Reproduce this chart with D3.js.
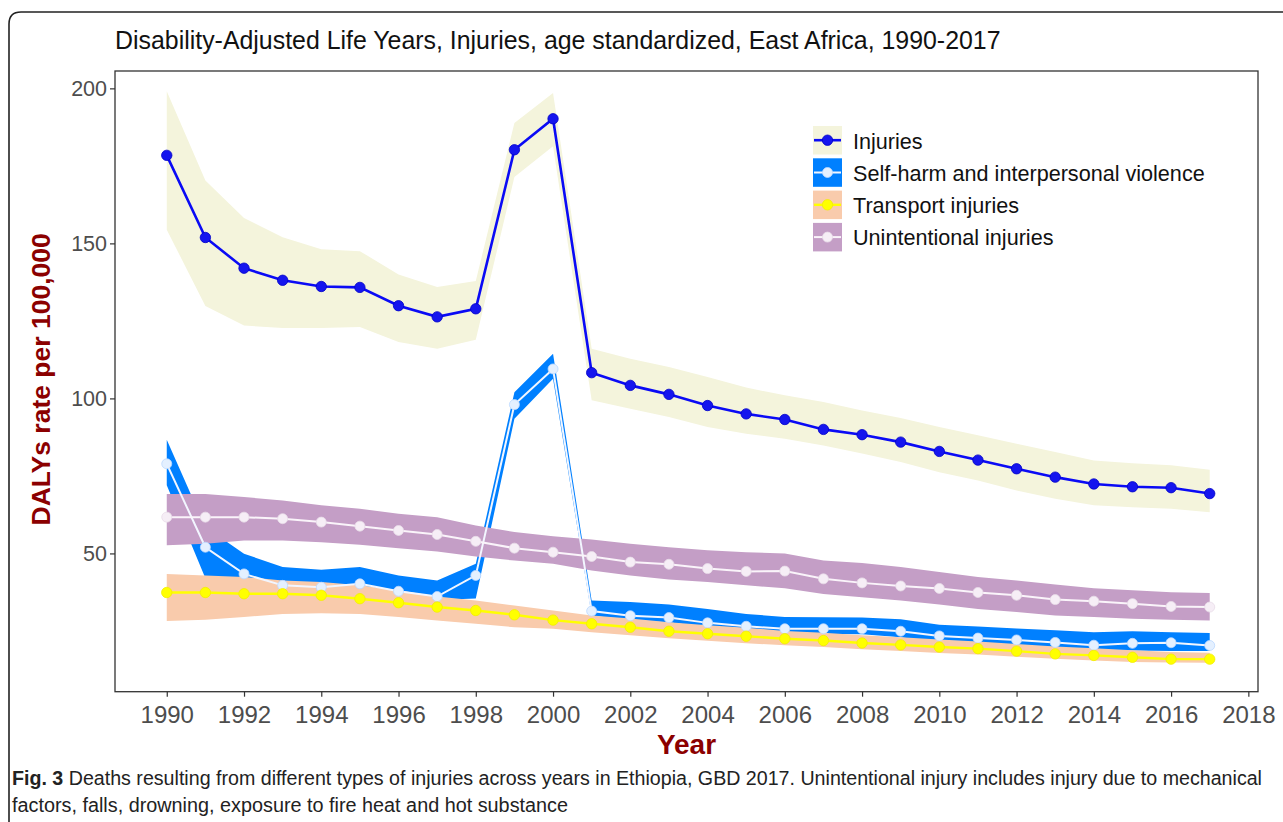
<!DOCTYPE html>
<html>
<head>
<meta charset="utf-8">
<script src="https://cdn.jsdelivr.net/npm/d3@7"></script>
<style>
  html, body { margin: 0; padding: 0; background: #fff; }
  svg { display: block; }
</style>
</head>
<body>
<svg id="chart" width="1283" height="822"></svg>
<script>
// ---------------- DATA ----------------
const years = [1990,1991,1992,1993,1994,1995,1996,1997,1998,1999,2000,2001,2002,2003,
               2004,2005,2006,2007,2008,2009,2010,2011,2012,2013,2014,2015,2016,2017];

const injuries      = [178.4,151.9,142.0,138.1,136.1,135.8,129.9,126.3,128.9,180.2,190.2,108.3,104.2,101.3,
                       97.7,95.0,93.2,90.0,88.3,85.9,82.9,80.1,77.3,74.6,72.4,71.5,71.2,69.3];
const injuriesUpper = [199.1,170.3,158.2,152.0,148.1,147.5,140.0,135.9,137.9,188.8,198.5,116.0,112.8,110.1,
                       106.9,103.5,101.0,98.8,96.1,93.7,90.8,88.1,85.4,82.7,80.0,79.1,78.4,77.0];
const injuriesLower = [154.4,129.8,123.5,122.7,122.7,123.0,118.2,116.0,118.9,171.4,181.3,99.4,96.7,94.0,
                       90.8,88.6,87.0,84.8,82.2,79.5,76.2,73.5,70.3,67.6,65.5,64.9,64.4,63.3];

const selfHarm      = [78.9,52.0,43.4,39.7,39.1,40.2,37.8,36.1,42.9,98.0,109.5,31.4,29.9,29.3,
                       27.6,26.5,25.7,25.7,25.7,24.9,23.4,22.7,22.1,21.3,20.4,21.0,21.2,20.3];
const selfHarmUpper = [86.7,58.5,49.9,45.6,44.7,45.6,42.9,41.3,46.7,102.0,114.4,34.8,34.3,33.5,
                       32.1,30.5,29.5,29.4,29.3,28.8,27.0,26.4,25.8,25.2,24.6,24.9,24.6,24.3];
const selfHarmLower = [72.0,42.0,40.5,38.0,37.5,37.5,36.0,35.0,35.5,93.4,106.3,30.0,28.4,27.8,
                       26.2,25.2,24.1,24.0,23.9,23.0,21.3,20.6,20.2,19.8,18.7,18.7,18.5,18.5];

const transport      = [37.4,37.4,37.0,37.0,36.5,35.4,34.1,32.7,31.6,30.2,28.5,27.3,26.2,24.9,
                        24.1,23.3,22.5,21.9,21.1,20.5,19.8,19.3,18.5,17.6,17.1,16.5,15.9,15.9];
const transportUpper = [43.4,42.9,42.4,41.3,40.8,39.7,38.1,36.1,34.8,33.2,31.6,30.0,29.0,27.8,
                        26.8,26.0,25.0,24.4,23.6,23.0,22.2,21.6,20.8,20.0,19.4,18.8,18.2,18.0];
const transportLower = [28.2,28.6,29.5,30.5,30.7,30.5,29.5,28.4,27.3,26.2,25.7,24.6,23.6,22.6,
                        21.8,21.0,20.4,19.8,19.1,18.5,17.9,17.4,16.7,16.0,15.5,15.0,14.8,14.7];

const unintentional      = [61.7,61.7,61.7,61.2,60.1,58.8,57.4,56.1,53.9,51.7,50.4,49.0,47.2,46.5,
                            45.1,44.2,44.3,41.8,40.5,39.5,38.7,37.4,36.5,35.1,34.6,33.8,32.9,32.7];
const unintentionalUpper = [69.2,69.2,68.2,67.1,65.5,64.4,62.8,61.7,59.0,56.9,55.5,54.5,53.1,52.0,
                            51.0,50.4,50.0,47.7,46.9,45.6,44.0,42.4,41.3,40.0,38.8,38.1,37.5,37.2];
const unintentionalLower = [52.6,53.1,54.2,54.2,53.6,52.8,51.7,50.6,49.0,47.7,46.7,44.5,42.9,41.6,
                            40.8,39.7,38.8,36.9,35.9,34.8,33.5,32.1,31.1,30.0,29.5,28.9,28.6,28.4];

const causes = ["Injuries","Self-harm and interpersonal violence","Transport injuries","Unintentional injuries"];
const xTicks = [1990,1992,1994,1996,1998,2000,2002,2004,2006,2008,2010,2012,2014,2016,2018];
const yTicks = [50,100,150,200];

const titleText = "Disability-Adjusted Life Years, Injuries, age standardized, East Africa, 1990-2017";
const yLabel = "DALYs rate per 100,000";
const xLabel = "Year";
const captionBold = "Fig. 3";
const captionLine1 = " Deaths resulting from different types of injuries across years in Ethiopia, GBD 2017. Unintentional injury includes injury due to mechanical";
const captionLine2 = "factors, falls, drowning, exposure to fire heat and hot substance";

// ---------------- STYLE ----------------
const FONT = "Liberation Sans, Arial, Helvetica, sans-serif";
const styles = [
  {band: "#F4F4DC", line: "#0A0AF5", lineW: 2.6, pt: "#1515EE", ptStroke: "#0000C8", r: 5.2},
  {band: "#0080FF", line: "#F2F6FF", lineW: 2.0, pt: "#E4F0FF", ptStroke: "#BBD8FF", r: 5.0},
  {band: "#F9CBAC", line: "#FFFF00", lineW: 2.4, pt: "#FFFF00", ptStroke: "#F2EE00", r: 5.2},
  {band: "#C49EC6", line: "#FAF4FA", lineW: 2.0, pt: "#F6EEF6", ptStroke: "#E8DCE8", r: 5.0}
];

const series = [
  {name: causes[0], val: injuries, lo: injuriesLower, hi: injuriesUpper},
  {name: causes[1], val: selfHarm, lo: selfHarmLower, hi: selfHarmUpper},
  {name: causes[2], val: transport, lo: transportLower, hi: transportUpper},
  {name: causes[3], val: unintentional, lo: unintentionalLower, hi: unintentionalUpper}
];

// ---------------- LAYOUT ----------------
const panel = {left: 115, top: 71, right: 1258, bottom: 691.7};
const svg = d3.select("#chart");

const x = d3.scaleLinear().domain([1988.66, 2018.25]).range([panel.left, panel.right]);
const y = d3.scaleLinear().domain([5.4, 205.6]).range([panel.bottom, panel.top]);

// outer rounded frame
svg.append("path")
  .attr("d", "M9,830 L9,24 Q9,12 21,12 L1290,12")
  .attr("fill", "none").attr("stroke", "#222").attr("stroke-width", 1.6);

// title
svg.append("text")
  .attr("x", panel.left).attr("y", 49)
  .attr("font-family", FONT)
  .attr("font-size", 24.9).attr("fill", "#111")
  .text(titleText);

svg.append("clipPath").attr("id", "clip")
  .append("rect").attr("x", panel.left).attr("y", panel.top)
  .attr("width", panel.right - panel.left).attr("height", panel.bottom - panel.top);

const g = svg.append("g").attr("clip-path", "url(#clip)");

// ribbons
const area = (s) => d3.area()
  .x((d, i) => x(years[i]))
  .y0((d, i) => y(s.lo[i]))
  .y1((d, i) => y(s.hi[i]));

series.forEach((s, k) => {
  g.append("path").datum(s.val)
    .attr("d", area(s))
    .attr("fill", styles[k].band);
});

// lines
series.forEach((s, k) => {
  g.append("path").datum(s.val)
    .attr("d", d3.line().x((d, i) => x(years[i])).y(d => y(d)))
    .attr("fill", "none")
    .attr("stroke", styles[k].line)
    .attr("stroke-width", styles[k].lineW);
});

// points
series.forEach((s, k) => {
  g.append("g").selectAll("circle").data(s.val).join("circle")
    .attr("cx", (d, i) => x(years[i]))
    .attr("cy", d => y(d))
    .attr("r", styles[k].r)
    .attr("fill", styles[k].pt)
    .attr("stroke", styles[k].ptStroke)
    .attr("stroke-width", 0.8);
});

// panel border
svg.append("rect")
  .attr("x", panel.left).attr("y", panel.top)
  .attr("width", panel.right - panel.left).attr("height", panel.bottom - panel.top)
  .attr("fill", "none").attr("stroke", "#333").attr("stroke-width", 1.3);

// axes
const yAxis = svg.append("g")
  .attr("transform", `translate(${panel.left},0)`)
  .call(d3.axisLeft(y).tickValues(yTicks).tickSize(5).tickPadding(3));
const xAxis = svg.append("g")
  .attr("transform", `translate(0,${panel.bottom})`)
  .call(d3.axisBottom(x).tickValues(xTicks).tickFormat(d3.format("d")).tickSize(5).tickPadding(9));

[yAxis, xAxis].forEach(a => {
  a.select(".domain").remove();
  a.selectAll(".tick line").attr("stroke", "#333").attr("stroke-width", 1.2);
  a.selectAll(".tick text")
    .attr("fill", "#4D4D4D")
    .attr("font-family", FONT);
});
yAxis.selectAll(".tick text").attr("font-size", 21.5);
xAxis.selectAll(".tick text").attr("font-size", 24);

// axis titles
svg.append("text")
  .attr("transform", `translate(50,${(panel.top + panel.bottom) / 2 - 2}) rotate(-90)`)
  .attr("text-anchor", "middle")
  .attr("font-family", FONT)
  .attr("font-weight", "bold").attr("font-size", 26.5).attr("fill", "#8B0000")
  .text(yLabel);

svg.append("text")
  .attr("x", (panel.left + panel.right) / 2).attr("y", 754)
  .attr("text-anchor", "middle")
  .attr("font-family", FONT)
  .attr("font-weight", "bold").attr("font-size", 28).attr("fill", "#8B0000")
  .text(xLabel);

// legend
const legend = svg.append("g").attr("transform", "translate(813,126)");
series.forEach((s, k) => {
  const row = legend.append("g").attr("transform", `translate(0,${k * 32.3})`);
  row.append("rect").attr("x", 0).attr("y", 0).attr("width", 29).attr("height", 28.5)
    .attr("fill", styles[k].band);
  row.append("line").attr("x1", 1).attr("x2", 28).attr("y1", 14.2).attr("y2", 14.2)
    .attr("stroke", styles[k].line).attr("stroke-width", styles[k].lineW);
  row.append("circle").attr("cx", 14.5).attr("cy", 14.2).attr("r", styles[k].r)
    .attr("fill", styles[k].pt).attr("stroke", styles[k].ptStroke).attr("stroke-width", 0.8);
  row.append("text").attr("x", 40).attr("y", 22.5)
    .attr("font-family", FONT)
    .attr("font-size", 21.6).attr("fill", "#111")
    .text(s.name);
});

// caption
const cap1 = svg.append("text")
  .attr("x", 12).attr("y", 785)
  .attr("font-family", FONT)
  .attr("font-size", 19.5).attr("fill", "#222")
  .attr("textLength", 1250).attr("lengthAdjust", "spacingAndGlyphs");
cap1.append("tspan").attr("font-weight", "bold").text(captionBold);
cap1.append("tspan").text(captionLine1);

svg.append("text")
  .attr("x", 12).attr("y", 812)
  .attr("font-family", FONT)
  .attr("font-size", 19.5).attr("fill", "#222")
  .attr("textLength", 556).attr("lengthAdjust", "spacingAndGlyphs")
  .text(captionLine2);
</script>
</body>
</html>
